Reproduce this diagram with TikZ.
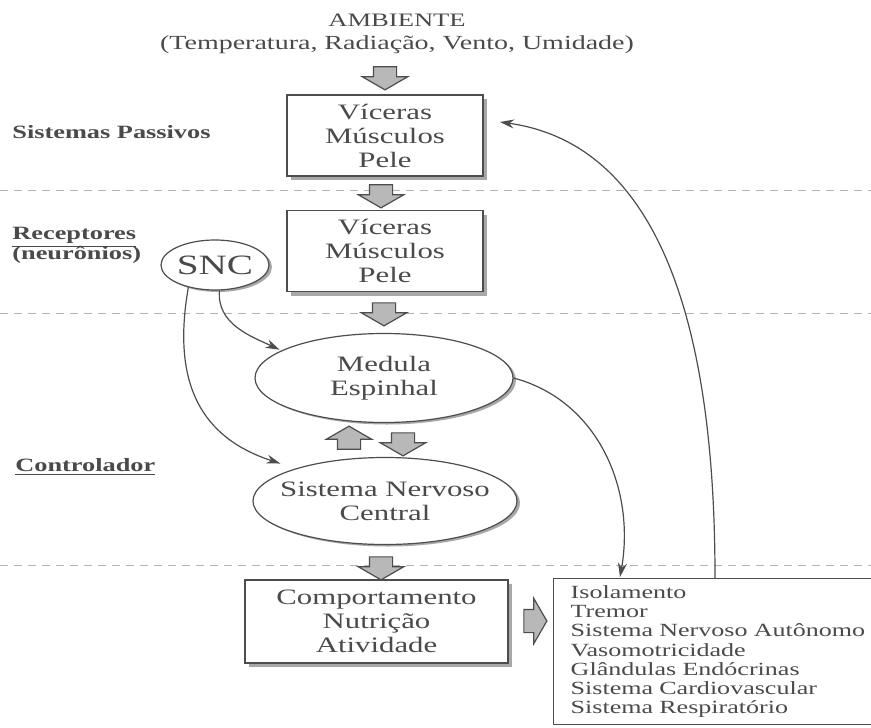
\documentclass[tikz,border=0pt]{standalone}
\usepackage{fontspec}
\setmainfont{Liberation Serif}[FakeStretch=1.4]
\usetikzlibrary{shapes.geometric,shapes.arrows,arrows.meta,shadows}
\definecolor{linha}{HTML}{4D4D4D}
\definecolor{texto}{HTML}{4A4A4A}
\definecolor{setacor}{HTML}{B8B8B8}
\definecolor{sombra}{HTML}{A8A8A8}
\definecolor{tracocor}{HTML}{B4B4B4}

\begin{document}
\begin{tikzpicture}[x=0.5pt,y=-0.5pt,
    caixa/.style={draw=linha, fill=white, line width=0.7pt, align=center, text=texto,
      font=\fontsize{11}{12}\selectfont, minimum width=98pt, minimum height=40.5pt,
      drop shadow={shadow xshift=2pt, shadow yshift=-2pt, fill=sombra, opacity=1}},
    elipse/.style={ellipse, draw=linha, fill=white, line width=0.6pt, align=center, text=texto,
      font=\fontsize{11}{12}\selectfont, inner xsep=-6pt, inner ysep=0pt,
      drop shadow={shadow xshift=1.5pt, shadow yshift=-1pt, fill=sombra, opacity=1}},
    seta/.style={single arrow, draw=linha, fill=setacor, line width=0.6pt, inner xsep=0pt,
      inner ysep=5.5pt, minimum height=11.5pt, single arrow head extend=5.5pt,
      single arrow tip angle=120},
    rotulo/.style={anchor=west, inner sep=0pt, text=texto, font=\bfseries\fontsize{9.4}{11}\selectfont},
    titulo/.style={inner sep=0pt, text=texto, font=\fontsize{9.5}{11}\selectfont},
    lista/.style={draw=linha, fill=white, line width=0.7pt, anchor=north west, align=left, text=texto,
      font=\fontsize{9.3}{9.6}\selectfont, text width=160pt, inner xsep=8.5pt, inner ysep=3pt,
      minimum height=73pt},
    curva/.style={draw=linha, line width=0.6pt, -{Stealth[length=7pt,width=4.5pt]}},
    tracejado/.style={draw=tracocor, line width=0.5pt, dash pattern=on 4pt off 3pt}]
  \fill[white] (0,0) rectangle (871,727);
  \useasboundingbox (0,0) rectangle (871,727);
  %separadores
  \draw[tracejado] (0,191) -- (871,191);
  \draw[tracejado] (0,313) -- (871,313);
  \draw[tracejado] (0,565) -- (871,565);
  %ambiente
  \node[titulo] (amb) at (397,20) {AMBIENTE};
  \node[titulo, font=\fontsize{10}{11}\selectfont] (fat) at (397,45) {(Temperatura, Radiação, Vento, Umidade)};
  \node[seta, rotate=-90] (s0) at (385,75) {};
  %sistemas passivos
  \node[caixa] (vis1) at (385,135.5) {Víceras\\Músculos\\Pele};
  \node[rotulo] (pass) at (12,132) {Sistemas Passivos};
  \node[seta, rotate=-90] (s1) at (381,193) {};
  %receptores
  \node[caixa] (vis2) at (385,251) {Víceras\\Músculos\\Pele};
  \node[rotulo] (rec) at (12,237) {\underline{Receptores}};
  \node[rotulo] (neu) at (12,255) {(neurônios)};
  \node[elipse, font=\fontsize{14}{15}\selectfont, inner sep=0pt, minimum width=54pt, minimum height=25pt] (snc) at (215,265) {SNC};
  \node[seta, rotate=-90] (s2) at (384,311) {};
  %controlador
  \node[elipse, minimum width=129pt, minimum height=44.5pt] (med) at (384,378) {Medula\\Espinhal};
  \node[seta, rotate=90] (sobe) at (349,441) {};
  \node[seta, rotate=-90] (desce) at (403,441) {};
  \node[rotulo] (ctl) at (15,467) {\underline{Controlador}};
  \node[elipse, minimum width=132pt, minimum height=43.5pt] (snc2) at (385,501) {Sistema Nervoso\\Central};
  \node[seta, rotate=-90] (s3) at (381,565) {};
  %respostas
  \node[caixa, minimum width=131.5pt, minimum height=41.5pt] (com) at (376.5,621.5) {Comportamento\\Nutrição\\Atividade};
  \node[seta] (s4) at (532,621) {};
  \node[lista] (lis) at (553,578) {Isolamento\\Tremor\\Sistema Nervoso Autônomo\\Vasomotricidade\\Glândulas Endócrinas\\Sistema Cardiovascular\\Sistema Respiratório};
  %ligacoes
  \coordinate (ent) at (620,577);
  \coordinate (sai) at (715,578);
  \coordinate (vol) at (500,122);
  \draw[curva, shorten >=1pt] (snc.-80) to[out=-95, in=155] (med.165);
  \draw[curva, shorten >=8pt] (snc.-140) to[out=-100, in=162, looseness=1.2] (snc2.160);
  \draw[curva] (med.east) to[out=-15, in=80] (ent);
  \draw[curva] (sai) to[out=90, in=-8, looseness=0.95] (vol);
\end{tikzpicture}
\end{document}
